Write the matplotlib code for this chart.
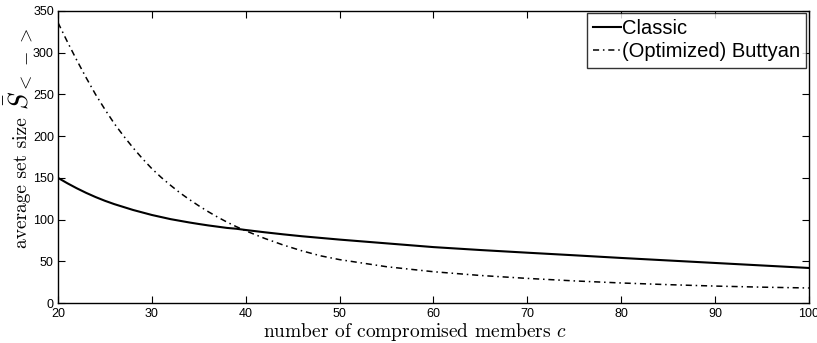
import matplotlib
matplotlib.use("Agg")
import matplotlib.pyplot as plt

# values
c_vals = [20, 21, 22, 23, 24, 25, 26, 27, 28, 29, 30, 31, 32, 33, 34, 35,
          36, 37, 38, 39, 40, 42, 44, 46, 48, 50, 55, 60, 65, 70, 75, 80,
          85, 90, 95, 100]
classic = [150, 143.5, 137.5, 132, 127, 122.5, 118.5, 115, 111.5, 108.5,
           105.5, 103, 100.5, 98.5, 96.5, 94.7, 93, 91.5, 90, 89, 87.5,
           84.8, 82.3, 80, 78, 76, 71.5, 67, 63.5, 60.3, 57.2, 54, 51, 48,
           45, 42]
buttyan = [336, 313, 291, 270, 250, 232, 215, 200, 186, 173, 161, 150.5,
           141, 132, 124, 116.5, 109.5, 103, 97, 91.5, 86.5, 77.5, 69.5,
           62.5, 56.5, 52, 43.5, 37.5, 33, 29.5, 26.5, 24, 22, 20.3, 19, 18]

x_ticks = [20, 30, 40, 50, 60, 70, 80, 90, 100]
y_ticks = [0, 50, 100, 150, 200, 250, 300, 350]

plt.rcParams["font.family"] = ["Liberation Sans", "DejaVu Sans"]
plt.rcParams["mathtext.fontset"] = "cm"

fig = plt.figure(figsize=(8.17, 3.43), dpi=100)
ax = fig.add_axes([0.071, 0.1166, 0.919, 0.8514])

ax.plot(c_vals, classic, color="black", linewidth=1.5, label="Classic")
ax.plot(c_vals, buttyan, color="black", linewidth=1.1, linestyle="-.",
        dashes=(4, 2.5, 1, 2.5), label="(Optimized) Buttyan")

ax.set_xlim(20, 100)
ax.set_ylim(0, 350)
ax.set_xticks(x_ticks)
ax.set_yticks(y_ticks)
ax.tick_params(direction="in", length=5, width=0.8, top=True, right=True,
               labelsize=9)
ax.tick_params(axis="x", pad=3.5)
ax.tick_params(axis="y", pad=3)
for s in ax.spines.values():
    s.set_linewidth(1.0)

ax.set_xlabel("number of compromised members $c$", family="cmr10",
              fontsize=14)
ax.xaxis.set_label_coords(0.475, -0.062)

# y label: plain words plus a larger symbol, as in the original
fig.text(0.033, 0.277, "average set size", rotation=90,
         rotation_mode="anchor", ha="left", va="baseline",
         family="cmr10", fontsize=14)
fig.text(0.034, 0.679, r"$\bar{S}_{<\,-\,>}$", rotation=90,
         rotation_mode="anchor", ha="left", va="baseline", fontsize=19)

leg = ax.legend(loc="upper right", fontsize=14.5, frameon=True, fancybox=False,
                edgecolor="black", handlelength=1.4, handletextpad=0.05,
                borderpad=0.3, labelspacing=0.2, borderaxespad=0.12)
leg.get_frame().set_linewidth(1.0)

fig.savefig("out.png", dpi=100)
